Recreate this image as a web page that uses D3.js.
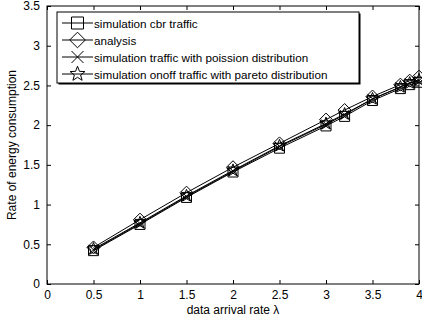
<!DOCTYPE html>
<html>
<head>
<meta charset="utf-8">
<script src="https://cdn.jsdelivr.net/npm/d3@7"></script>
<style>
  body { margin: 0; background: #fff; }
  svg { font-family: "Liberation Sans", Arial, sans-serif; }
</style>
</head>
<body>
<svg id="chart" width="422" height="320"></svg>
<script>
// data
var rates = [0.5, 1, 1.5, 2, 2.5, 3, 3.2, 3.5, 3.8, 3.9, 4]
var cbr = [0.42, 0.75, 1.09, 1.41, 1.71, 1.99, 2.11, 2.31, 2.46, 2.51, 2.54]
var analysis = [0.46, 0.81, 1.15, 1.47, 1.77, 2.07, 2.19, 2.36, 2.51, 2.56, 2.61]
var poisson = [0.43, 0.76, 1.10, 1.42, 1.73, 2.01, 2.13, 2.33, 2.48, 2.53, 2.56]
var pareto = [0.44, 0.77, 1.11, 1.43, 1.74, 2.02, 2.14, 2.33, 2.48, 2.53, 2.57]
var seriesNames = ["simulation cbr traffic", "analysis",
  "simulation traffic with poission distribution",
  "simulation onoff traffic with pareto distribution"]
var xTicks = [0, 0.5, 1, 1.5, 2, 2.5, 3, 3.5, 4]
var yTicks = [0, 0.5, 1, 1.5, 2, 2.5, 3, 3.5]

var series = [
  {name: seriesNames[0], values: cbr, marker: "square"},
  {name: seriesNames[1], values: analysis, marker: "diamond"},
  {name: seriesNames[2], values: poisson, marker: "cross"},
  {name: seriesNames[3], values: pareto, marker: "star"}
]

var margin = {top: 6, right: 3, bottom: 36, left: 47}
var width = 422, height = 320
var iw = width - margin.left - margin.right
var ih = height - margin.top - margin.bottom

var svg = d3.select("#chart")
var g = svg.append("g")
  .attr("transform", "translate(" + margin.left + "," + margin.top + ")")

var xScale = d3.scaleLinear().domain([0, 4]).range([0, iw])
var yScale = d3.scaleLinear().domain([0, 3.5]).range([ih, 0])

// markers, MATLAB-ish
function markerPath(type, s) {
  var h = s / 2
  if (type === "square") return "M" + (-h) + "," + (-h) + "h" + s + "v" + s + "h" + (-s) + "Z"
  if (type === "diamond") { var d = h * 1.3; return "M0," + (-d) + "L" + d + ",0L0," + d + "L" + (-d) + ",0Z" }
  if (type === "cross") return "M" + (-h) + "," + (-h) + "L" + h + "," + h + "M" + (-h) + "," + h + "L" + h + "," + (-h)
  if (type === "star") {
    var pts = []
    for (var i = 0; i < 10; i++) {
      var r = i % 2 === 0 ? h * 1.3 : h * 0.55
      var a = -Math.PI / 2 + i * Math.PI / 5
      pts.push([r * Math.cos(a), r * Math.sin(a)])
    }
    return "M" + pts.map(function(p) { return p[0].toFixed(2) + "," + p[1].toFixed(2) }).join("L") + "Z"
  }
}

// axes box with inward ticks on all sides
var tickLen = 4
var axB = g.append("g").attr("transform", "translate(0," + ih + ")")
  .call(d3.axisBottom(xScale).tickValues(xTicks).tickSizeInner(-tickLen).tickSizeOuter(0).tickPadding(6)
    .tickFormat(function(d) { return d }))
var axT = g.append("g")
  .call(d3.axisTop(xScale).tickValues(xTicks).tickSizeInner(-tickLen).tickSizeOuter(0).tickFormat(""))
var axL = g.append("g")
  .call(d3.axisLeft(yScale).tickValues(yTicks).tickSizeInner(-tickLen).tickSizeOuter(0).tickPadding(7)
    .tickFormat(function(d) { return d }))
var axR = g.append("g").attr("transform", "translate(" + iw + ",0)")
  .call(d3.axisRight(yScale).tickValues(yTicks).tickSizeInner(-tickLen).tickSizeOuter(0).tickFormat(""))

;[axB, axT, axL, axR].forEach(function(ax) {
  ax.select(".domain").remove()
  ax.selectAll("line").attr("stroke", "#000")
  ax.selectAll("text").attr("fill", "#000").style("font-size", "12px")
})

g.append("rect")
  .attr("width", iw).attr("height", ih)
  .attr("fill", "none").attr("stroke", "#000").attr("stroke-width", 1)

// series lines and markers
var line = d3.line()
  .x(function(d, i) { return xScale(rates[i]) })
  .y(function(d) { return yScale(d) })

series.forEach(function(s) {
  g.append("path")
    .datum(s.values)
    .attr("d", line)
    .attr("fill", "none")
    .attr("stroke", "#000")
    .attr("stroke-width", 1)
  g.selectAll(".m-" + s.marker)
    .data(s.values)
    .enter().append("path")
    .attr("class", "m-" + s.marker)
    .attr("transform", function(d, i) { return "translate(" + xScale(rates[i]) + "," + yScale(d) + ")" })
    .attr("d", markerPath(s.marker, 10))
    .attr("fill", "none")
    .attr("stroke", "#000")
    .attr("stroke-width", 1)
})

// axis labels
svg.append("text")
  .attr("x", margin.left + iw / 2).attr("y", 314)
  .attr("text-anchor", "middle")
  .style("font-size", "12px")
  .text("data arrival rate λ")

svg.append("text")
  .attr("transform", "translate(16," + (margin.top + ih / 2) + ") rotate(-90)")
  .attr("text-anchor", "middle")
  .style("font-size", "12px")
  .text("Rate of energy consumption")

// legend
var lg = svg.append("g").attr("transform", "translate(57,12)")
var lgW = 302, lgH = 71
lg.append("rect").attr("x", 1.5).attr("y", 1.5).attr("width", lgW).attr("height", lgH)
  .attr("fill", "#000")
lg.append("rect").attr("width", lgW).attr("height", lgH)
  .attr("fill", "#fff").attr("stroke", "#000").attr("stroke-width", 1)

var rowY = [11, 28, 45, 62]
series.forEach(function(s, i) {
  var row = lg.append("g").attr("transform", "translate(0," + rowY[i] + ")")
  row.append("line").attr("x1", 5).attr("x2", 36).attr("y1", 0).attr("y2", 0)
    .attr("stroke", "#000")
  row.append("path").attr("transform", "translate(20.5,0)")
    .attr("d", markerPath(s.marker, 12))
    .attr("fill", "none").attr("stroke", "#000")
  row.append("text").attr("x", 37).attr("y", 4.5)
    .style("font-size", "11.7px")
    .text(s.name)
})
</script>
</body>
</html>
